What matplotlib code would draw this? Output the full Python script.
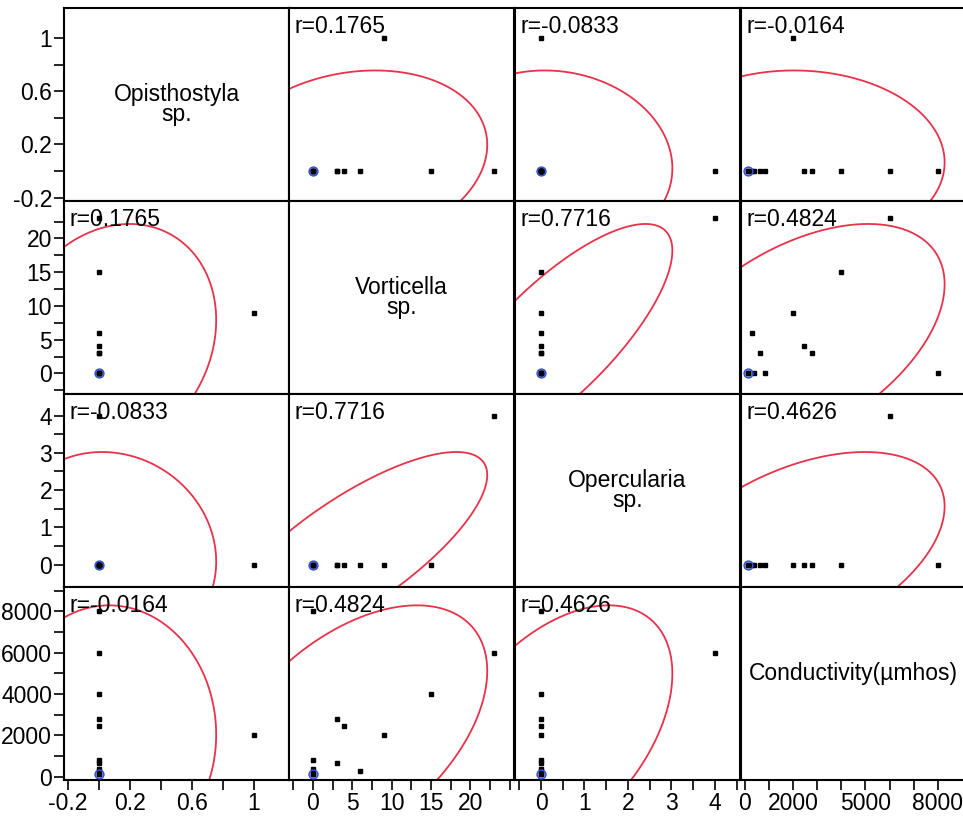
import numpy as np
import matplotlib
matplotlib.use("Agg")
import matplotlib.pyplot as plt

plt.rcParams['font.family'] = ['Liberation Sans', 'DejaVu Sans']

# ---- data (13 samples) ----
var_names = ["Opisthostyla\nsp.", "Vorticella\nsp.", "Opercularia\nsp.", "Conductivity(µmhos)"]
opisthostyla = [0, 0, 0, 0, 0, 0, 0, 0, 0, 0, 1, 0, 0]
vorticella = [0, 0, 0, 0, 0, 0, 3, 3, 4, 6, 9, 15, 23]
opercularia = [0, 0, 0, 0, 0, 0, 0, 0, 0, 0, 0, 0, 4]
conductivity = [150, 150, 150, 390, 825, 8000, 650, 2800, 2450, 300, 2000, 4000, 6000]
highlighted = [0]  # selected row, shown as a blue ring

# pairwise correlations printed in the cells
r_pairs = {(0, 1): 0.1765, (0, 2): -0.0833, (0, 3): -0.0164,
           (1, 2): 0.7716, (1, 3): 0.4824, (2, 3): 0.4626}

# axis ranges and ticks for each variable
axis_limits = [(-0.225, 1.225), (-3.05, 25.55), (-0.6, 4.58), (-155, 9170)]
y_major = [[-0.2, 0.2, 0.6, 1.0], [0, 5, 10, 15, 20], [0, 1, 2, 3, 4],
           [0, 2000, 4000, 6000, 8000]]
y_major_labels = [["-0.2", "0.2", "0.6", "1"], ["0", "5", "10", "15", "20"],
                  ["0", "1", "2", "3", "4"], ["0", "2000", "4000", "6000", "8000"]]
y_minor = [[0, 0.4, 0.8], [-2.5, 2.5, 7.5, 12.5, 17.5, 22.5],
           [0.5, 1.5, 2.5, 3.5], [1000, 3000, 5000, 7000, 9000]]
x_major = [[-0.2, 0.2, 0.6, 1.0], [0, 5, 10, 15, 20], [0, 1, 2, 3, 4],
           [0, 2000, 5000, 8000]]
x_major_labels = [["-0.2", "0.2", "0.6", "1"], ["0", "5", "10", "15", "20"],
                  ["0", "1", "2", "3", "4"], ["0", "2000", "5000", "8000"]]
x_minor = [[0, 0.4, 0.8], [-2.5, 2.5, 7.5, 12.5, 17.5, 22.5, 25],
           [-0.5, 0.5, 1.5, 2.5, 3.5, 4.5], [1000, 3000, 4000, 6000, 7000]]

data = [np.array(v, dtype=float) for v in
        (opisthostyla, vorticella, opercularia, conductivity)]

W, H = 963, 821
fig = plt.figure(figsize=(W / 100, H / 100), dpi=100)

lefts = [64, 289, 515, 741]
tops = [8, 201, 394, 587]
cw, ch = 225, 193

ELLIPSE_LEVEL = 5.991  # chi-square, 2 dof, 95%
red = "#e8324a"
blue = "#2f4fe8"


def density_ellipse(x, y, level=ELLIPSE_LEVEL, n=400):
    cov = np.cov(x, y)
    vals, vecs = np.linalg.eigh(cov)
    t = np.linspace(0, 2 * np.pi, n)
    circ = np.vstack([np.cos(t), np.sin(t)])
    pts = vecs @ (np.sqrt(np.maximum(vals, 0) * level)[:, None] * circ)
    return pts[0] + x.mean(), pts[1] + y.mean()


for i in range(4):
    for j in range(4):
        ax = fig.add_axes([lefts[j] / W, 1 - (tops[i] + ch) / H, cw / W, ch / H])
        ax.set_xlim(*axis_limits[j])
        ax.set_ylim(*axis_limits[i])
        for s in ax.spines.values():
            s.set_linewidth(1.5)
            s.set_color("black")

        ax.tick_params(which="both", direction="out", length=7, width=1.2,
                       labelsize=16.5, pad=1.5, colors="black")
        if j == 0:
            ax.set_yticks(y_major[i])
            ax.set_yticklabels(y_major_labels[i])
            ax.set_yticks(y_minor[i], minor=True)
        else:
            ax.set_yticks([])
            ax.set_yticks([], minor=True)
        if i == 3:
            ax.set_xticks(x_major[j])
            ax.set_xticklabels(x_major_labels[j])
            ax.set_xticks(x_minor[j], minor=True)
        else:
            ax.set_xticks([])
            ax.set_xticks([], minor=True)

        if i == j:
            ypos = 0.55 if i == 3 else 0.5
            ax.text(0.5, ypos, var_names[i], transform=ax.transAxes,
                    ha="center", va="center", fontsize=16.5, linespacing=0.8)
            continue

        x, y = data[j], data[i]
        ex, ey = density_ellipse(x, y)
        ax.plot(ex, ey, color=red, lw=1.3, zorder=2)
        ax.plot(x, y, linestyle="none", marker="s", ms=2.5, color="black",
                zorder=3)
        ax.plot(x[highlighted], y[highlighted], linestyle="none", marker="o",
                ms=6.3, mfc="none", mec=blue, mew=1.1, zorder=4)

        r = r_pairs[(min(i, j), max(i, j))]
        ax.text(0.026, 0.965, f"r={r:.4f}", transform=ax.transAxes,
                ha="left", va="top", fontsize=16.5, zorder=5)

fig.savefig("out.png", dpi=100)
